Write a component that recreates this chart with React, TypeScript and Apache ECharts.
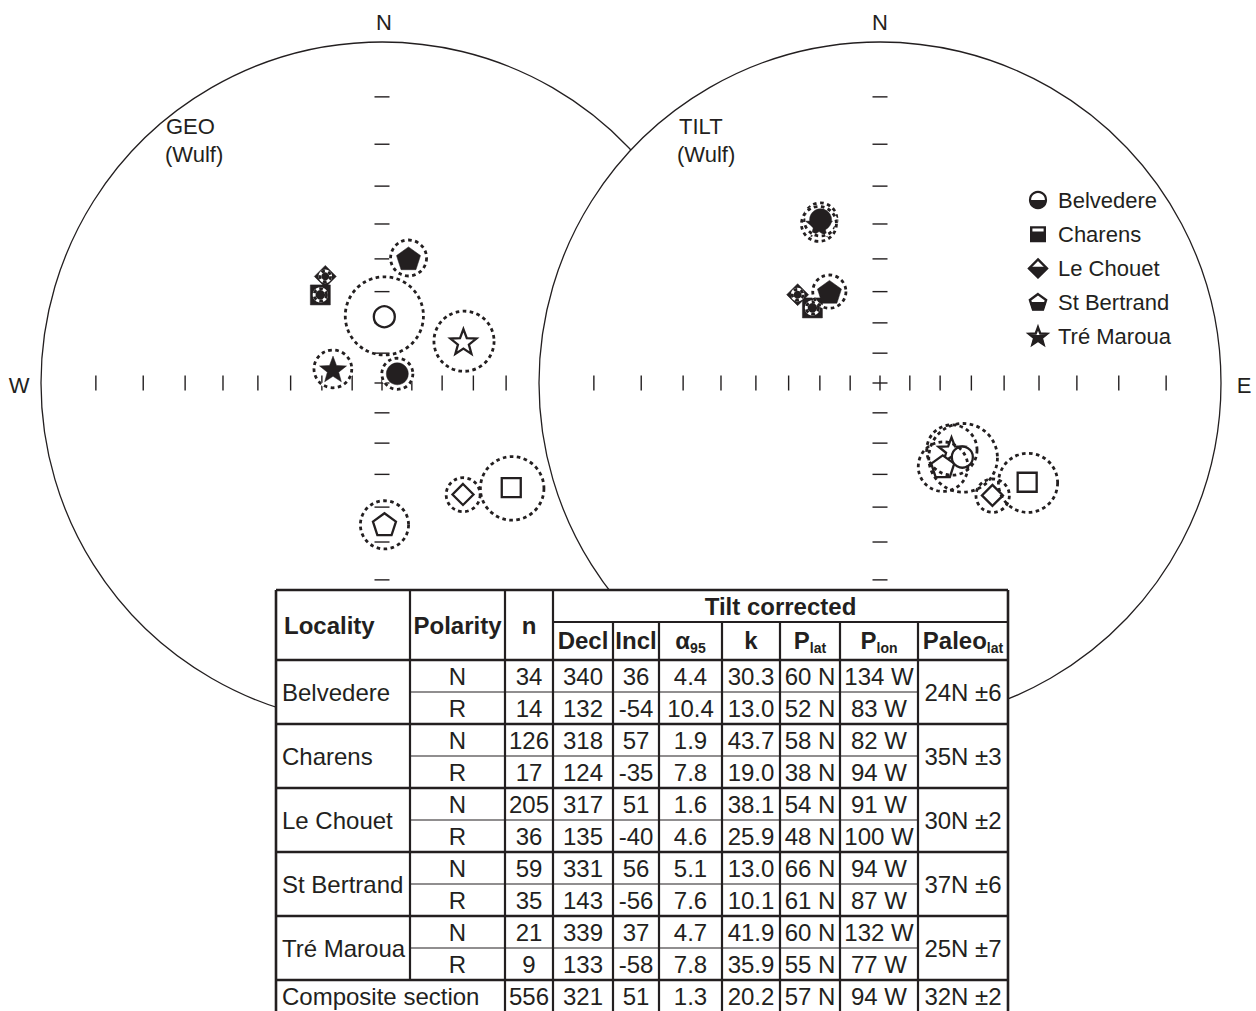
import React, { useEffect, useRef } from 'react';
import * as echarts from 'echarts';

// ---------------- data ----------------
const localities = ['Belvedere', 'Charens', 'Le Chouet', 'St Bertrand', 'Tré Maroua'];
const polarities = ['N', 'R'];
const nSites = [[34, 14], [126, 17], [205, 36], [59, 35], [21, 9]];
const tiltDecl = [[340, 132], [318, 124], [317, 135], [331, 143], [339, 133]];
const tiltIncl = [[36, -54], [57, -35], [51, -40], [56, -56], [37, -58]];
const tiltA95 = [[4.4, 10.4], [1.9, 7.8], [1.6, 4.6], [5.1, 7.6], [4.7, 7.8]];
const kappa = [[30.3, 13.0], [43.7, 19.0], [38.1, 25.9], [13.0, 10.1], [41.9, 35.9]];
const poleLat = [['60 N', '52 N'], ['58 N', '38 N'], ['54 N', '48 N'], ['66 N', '61 N'], ['60 N', '55 N']];
const poleLon = [['134 W', '83 W'], ['82 W', '94 W'], ['91 W', '100 W'], ['94 W', '87 W'], ['132 W', '77 W']];
const paleoLat = ['24N ±6', '35N ±3', '30N ±2', '37N ±6', '25N ±7'];
const compositeLabel = 'Composite section';
const compositeRow = ['556', '321', '51', '1.3', '20.2', '57 N', '94 W', '32N ±2'];

// geographic (in situ) directions, read from the left net
const geoDecl = [[59, 2], [325, 129], [332, 144], [12, 179], [286, 63]];
const geoIncl = [[84, -68], [55, -38], [51, -46], [49, -45], [73, -60]];
const geoA95 = [[5.2, 12.6], [1.9, 8.6], [1.6, 4.9], [5.3, 6.9], [6.2, 9.4]];

const tickAngles = [10, 20, 30, 40, 50, 60, 70, 80];
const netTitles = [['GEO', '(Wulf)'], ['TILT', '(Wulf)']];
const headerTop = ['Locality', 'Polarity', 'n', 'Tilt corrected'];
const headerSub = [['Decl', ''], ['Incl', ''], ['α', '95'], ['k', ''], ['P', 'lat'], ['P', 'lon'], ['Paleo', 'lat']];

// ---------------- layout / style ----------------
const FONT = '"Liberation Sans", Arial, Helvetica, sans-serif';
const INK = '#231f20';
const NET_R = 341;
const NET_CENTERS = [[382, 383], [880, 383]];
const colX = [276, 410, 505, 553, 613, 659, 722, 780, 840, 918, 1008];
const T_TOP = 590, T_MID = 622, T_HEAD = 660, ROW_H = 32, T_BOT = 1011;
const LEG_X = 1038, LEG_Y0 = 200, LEG_DY = 34.2, LEG_TX = 1058;

const d2r = Math.PI / 180;
const pentUnit = Array.from({ length: 5 }, (_, i) => {
  const a = (-90 + 72 * i) * d2r;
  return [Math.cos(a), Math.sin(a)];
});
const starUnit = Array.from({ length: 10 }, (_, i) => {
  const a = (-90 + 36 * i) * d2r;
  const r = i % 2 === 0 ? 1 : 0.42;
  return [r * Math.cos(a), r * Math.sin(a)];
});
const toPath = (pts: number[][]) =>
  'path://M' + pts.map((p) => p[0].toFixed(4) + ',' + p[1].toFixed(4)).join('L') + 'Z';
const symbolShapes = ['circle', 'rect', 'diamond', toPath(pentUnit), toPath(starUnit)];
const symbolSizes = [22, 20, 22, 24, 27];
const drawOrder = [4, 1, 2, 3, 0];

function project(dec: number, inc: number) {
  const r = Math.tan(((90 - Math.abs(inc)) / 2) * d2r);
  return [r * Math.sin(dec * d2r), r * Math.cos(dec * d2r)];
}
function coneCircle(dec: number, inc: number, a95: number) {
  const th = 90 - Math.abs(inc);
  const r1 = Math.tan(((th - a95) / 2) * d2r);
  const r2 = Math.tan(((th + a95) / 2) * d2r);
  const m = (r1 + r2) / 2;
  return [m * Math.sin(dec * d2r), m * Math.cos(dec * d2r), (r2 - r1) / 2];
}

function measure(text: string, size: number, bold: boolean) {
  const c = document.createElement('canvas').getContext('2d') as CanvasRenderingContext2D;
  c.font = `${bold ? 'bold ' : ''}${size}px ${FONT}`;
  return c.measureText(text).width;
}

function textEl(text: string, x: number, y: number, align: string, size = 24, bold = false, z = 60) {
  return {
    type: 'text',
    z,
    x,
    y,
    silent: true,
    style: {
      text,
      fill: INK,
      fontFamily: FONT,
      fontSize: size,
      fontWeight: bold ? 'bold' : 'normal',
      textAlign: align,
      align,
      textVerticalAlign: 'middle',
      verticalAlign: 'middle',
    },
  };
}
function lineEl(x1: number, y1: number, x2: number, y2: number, w: number) {
  return { type: 'line', z: 62, silent: true, shape: { x1, y1, x2, y2 }, style: { stroke: INK, lineWidth: w } };
}

function tableGraphics() {
  const els: any[] = [];
  const cc = (i: number) => (colX[i] + colX[i + 1]) / 2;
  els.push({
    type: 'rect', z: 55, silent: true,
    shape: { x: colX[0], y: T_TOP, width: colX[10] - colX[0], height: T_BOT - T_TOP },
    style: { fill: '#fff' },
  });
  const hy = (T_TOP + T_HEAD) / 2;
  els.push(textEl(headerTop[0], colX[0] + 8, hy, 'left', 24, true));
  els.push(textEl(headerTop[1], cc(1), hy, 'center', 24, true));
  els.push(textEl(headerTop[2], cc(2), hy, 'center', 24, true));
  els.push(textEl(headerTop[3], (colX[3] + colX[10]) / 2, (T_TOP + T_MID) / 2, 'center', 24, true));
  const sy = (T_MID + T_HEAD) / 2 - 1;
  headerSub.forEach(([main, sub], j) => {
    const c = cc(3 + j);
    const wm = measure(main, 24, true);
    const ws = sub ? measure(sub, 14, true) : 0;
    const start = c - (wm + ws) / 2;
    els.push(textEl(main, start, sy, 'left', 24, true));
    if (sub) els.push(textEl(sub, start + wm, sy + 8, 'left', 14, true));
  });
  localities.forEach((loc, g) => {
    const gTop = T_HEAD + g * 2 * ROW_H;
    els.push(textEl(loc, colX[0] + 6, gTop + ROW_H, 'left'));
    polarities.forEach((pol, j) => {
      const y = gTop + j * ROW_H + ROW_H / 2;
      const cells = [
        pol,
        String(nSites[g][j]),
        String(tiltDecl[g][j]),
        String(tiltIncl[g][j]),
        tiltA95[g][j].toFixed(1),
        kappa[g][j].toFixed(1),
        poleLat[g][j],
        poleLon[g][j],
      ];
      cells.forEach((t, k) => els.push(textEl(t, cc(1 + k), y, 'center')));
    });
    els.push(textEl(paleoLat[g], cc(9), gTop + ROW_H, 'center'));
  });
  const cTop = T_HEAD + localities.length * 2 * ROW_H;
  const cy = cTop + ROW_H / 2;
  els.push(textEl(compositeLabel, colX[0] + 6, cy, 'left'));
  compositeRow.forEach((t, k) => els.push(textEl(t, cc(2 + k), cy, 'center')));

  // horizontal rules
  els.push(lineEl(colX[0], T_TOP, colX[10], T_TOP, 2.6));
  els.push(lineEl(colX[3], T_MID, colX[10], T_MID, 2.2));
  els.push(lineEl(colX[0], T_HEAD, colX[10], T_HEAD, 2.6));
  for (let g = 0; g < localities.length; g++) {
    const gTop = T_HEAD + g * 2 * ROW_H;
    els.push(lineEl(colX[1], gTop + ROW_H, colX[9], gTop + ROW_H, 1.1));
    els.push(lineEl(colX[0], gTop + 2 * ROW_H, colX[10], gTop + 2 * ROW_H, 2.4));
  }
  // vertical rules
  els.push(lineEl(colX[0], T_TOP, colX[0], T_BOT, 2.6));
  els.push(lineEl(colX[1], T_TOP, colX[1], cTop, 2.2));
  els.push(lineEl(colX[2], T_TOP, colX[2], T_BOT, 2.2));
  els.push(lineEl(colX[3], T_TOP, colX[3], T_BOT, 2.2));
  for (let i = 4; i < 10; i++) els.push(lineEl(colX[i], T_MID, colX[i], T_BOT, 2.2));
  els.push(lineEl(colX[10], T_TOP, colX[10], T_BOT, 2.6));
  return els;
}

function clipBelow(pts: number[][], yc: number) {
  const out: number[][] = [];
  for (let i = 0; i < pts.length; i++) {
    const a = pts[i];
    const b = pts[(i + 1) % pts.length];
    const ain = a[1] >= yc;
    const bin = b[1] >= yc;
    if (ain) out.push(a);
    if (ain !== bin) {
      const t = (yc - a[1]) / (b[1] - a[1]);
      out.push([a[0] + t * (b[0] - a[0]), yc]);
    }
  }
  return out;
}

function legendGraphics() {
  const els: any[] = [];
  const polys = [
    null,
    [[-0.85, -0.85], [0.85, -0.85], [0.85, 0.85], [-0.85, 0.85]],
    [[0, -1], [1, 0], [0, 1], [-1, 0]],
    pentUnit,
    starUnit,
  ];
  const sizes = [16, 16, 18, 17, 19];
  const cut = [0, -2, -1, 0, -1];
  localities.forEach((name, i) => {
    const cx = LEG_X;
    const cy = LEG_Y0 + i * LEG_DY;
    const s = sizes[i] / 2;
    if (i === 0) {
      els.push({ type: 'circle', z: 60, silent: true, shape: { cx, cy, r: s }, style: { fill: '#fff', stroke: INK, lineWidth: 2.2 } });
      els.push({
        type: 'sector', z: 61, silent: true,
        shape: { cx, cy, r: s, r0: 0, startAngle: 0, endAngle: Math.PI, clockwise: true },
        style: { fill: INK },
      });
    } else {
      const pts = (polys[i] as number[][]).map(([x, y]) => [cx + x * s, cy + y * s]);
      els.push({ type: 'polygon', z: 60, silent: true, shape: { points: pts }, style: { fill: '#fff', stroke: INK, lineWidth: 2.4 } });
      els.push({ type: 'polygon', z: 61, silent: true, shape: { points: clipBelow(pts, cy + cut[i]) }, style: { fill: INK, stroke: INK, lineWidth: 1.4 } });
    }
    els.push(textEl(name, LEG_TX, cy, 'left', 22, false, 60));
  });
  return els;
}

function labelGraphics() {
  const els: any[] = [];
  els.push(textEl('N', NET_CENTERS[0][0] + 2, 22, 'center', 22, false, 40));
  els.push(textEl('N', NET_CENTERS[1][0], 22, 'center', 22, false, 40));
  els.push(textEl('W', 19, 385, 'center', 22, false, 40));
  els.push(textEl('E', 1244, 385, 'center', 22, false, 40));
  els.push(textEl(netTitles[0][0], 166, 126, 'left', 22, false, 40));
  els.push(textEl(netTitles[0][1], 165, 154, 'left', 22, false, 40));
  els.push(textEl(netTitles[1][0], 679, 126, 'left', 22, false, 40));
  els.push(textEl(netTitles[1][1], 677, 154, 'left', 22, false, 40));
  return els;
}

const frameRender = (fillNet: boolean) => (params: any, api: any) => {
  const kind = api.value(2);
  const p = api.coord([api.value(0), api.value(1)]);
  const st = { stroke: INK, lineWidth: 1.4 };
  if (kind === 3) {
    const r = api.size([1, 0])[0];
    return {
      type: 'circle',
      shape: { cx: p[0], cy: p[1], r },
      style: { fill: fillNet ? '#fff' : 'none', stroke: INK, lineWidth: 1.3 },
    };
  }
  const h = 7.5;
  if (kind === 0) return { type: 'line', shape: { x1: p[0], y1: p[1] - h, x2: p[0], y2: p[1] + h }, style: st };
  if (kind === 1) return { type: 'line', shape: { x1: p[0] - h, y1: p[1], x2: p[0] + h, y2: p[1] }, style: st };
  return {
    type: 'group',
    children: [
      { type: 'line', shape: { x1: p[0], y1: p[1] - h, x2: p[0], y2: p[1] + h }, style: st },
      { type: 'line', shape: { x1: p[0] - h, y1: p[1], x2: p[0] + h, y2: p[1] }, style: st },
    ],
  };
};

const ringRender = (params: any, api: any) => {
  const p = api.coord([api.value(0), api.value(1)]);
  const r = api.size([api.value(2), 0])[0];
  const filled = api.value(3) === 1;
  const children: any[] = [];
  if (filled) children.push({ type: 'circle', shape: { cx: p[0], cy: p[1], r }, style: { fill: 'none', stroke: '#fff', lineWidth: 2.8 } });
  children.push({
    type: 'circle',
    shape: { cx: p[0], cy: p[1], r },
    style: { fill: 'none', stroke: INK, lineWidth: 2.8, lineDash: [3.6, 3.4] },
  });
  return { type: 'group', children };
};

function buildOption() {
  const frameData: number[][] = [[0, 0, 3], [0, 0, 2]];
  tickAngles.forEach((a) => {
    const r = Math.tan((a / 2) * d2r);
    frameData.push([r, 0, 0], [-r, 0, 0], [0, r, 1], [0, -r, 1]);
  });
  const netData = [
    { decl: geoDecl, incl: geoIncl, a95: geoA95 },
    { decl: tiltDecl, incl: tiltIncl, a95: tiltA95 },
  ];
  const series: any[] = [];
  netData.forEach((nd, k) => {
    const zb = k * 4;
    series.push({
      type: 'custom', xAxisIndex: k, yAxisIndex: k, z: zb + 1, silent: true, clip: false,
      encode: { x: 0, y: 1 }, data: frameData, renderItem: frameRender(k === 1),
    });
    const items: any[] = [];
    polarities.forEach((_, j) => {
      drawOrder.forEach((i) => {
        items.push({
          value: project(nd.decl[i][j], nd.incl[i][j]),
          symbol: symbolShapes[i],
          symbolSize: symbolSizes[i] - (j === 1 ? 1 : 0),
          itemStyle:
            j === 0
              ? { color: INK, borderColor: INK, borderWidth: 0.5, opacity: 1 }
              : { color: '#fff', borderColor: INK, borderWidth: 2.3, opacity: 1 },
        });
      });
    });
    series.push({
      type: 'scatter', xAxisIndex: k, yAxisIndex: k, z: zb + 2, silent: true,
      symbolKeepAspect: true, itemStyle: { opacity: 1 }, data: items,
    });
    const rings: number[][] = [];
    polarities.forEach((_, j) => {
      localities.forEach((__, i) => {
        const c = coneCircle(nd.decl[i][j], nd.incl[i][j], nd.a95[i][j]);
        rings.push([c[0], c[1], c[2], j === 0 ? 1 : 0]);
      });
    });
    series.push({
      type: 'custom', xAxisIndex: k, yAxisIndex: k, z: zb + 3, silent: true, clip: false,
      encode: { x: 0, y: 1 }, data: rings, renderItem: ringRender,
    });
  });

  return {
    animation: false,
    backgroundColor: '#fff',
    grid: NET_CENTERS.map(([cx, cy]) => ({
      left: cx - NET_R, top: cy - NET_R, width: 2 * NET_R, height: 2 * NET_R, containLabel: false,
    })),
    xAxis: NET_CENTERS.map((_, i) => ({ type: 'value', gridIndex: i, min: -1, max: 1, show: false })),
    yAxis: NET_CENTERS.map((_, i) => ({ type: 'value', gridIndex: i, min: -1, max: 1, show: false })),
    series,
    graphic: { elements: [...labelGraphics(), ...legendGraphics(), ...tableGraphics()] },
  };
}

export default function App() {
  const ref = useRef<HTMLDivElement>(null);
  useEffect(() => {
    document.body.style.margin = '0';
    document.body.style.overflow = 'hidden';
    const chart = echarts.init(ref.current as HTMLDivElement, null, { renderer: 'svg' });
    chart.setOption(buildOption() as any);
    return () => chart.dispose();
  }, []);
  return <div ref={ref} style={{ width: 1256, height: 1011 }} />;
}
